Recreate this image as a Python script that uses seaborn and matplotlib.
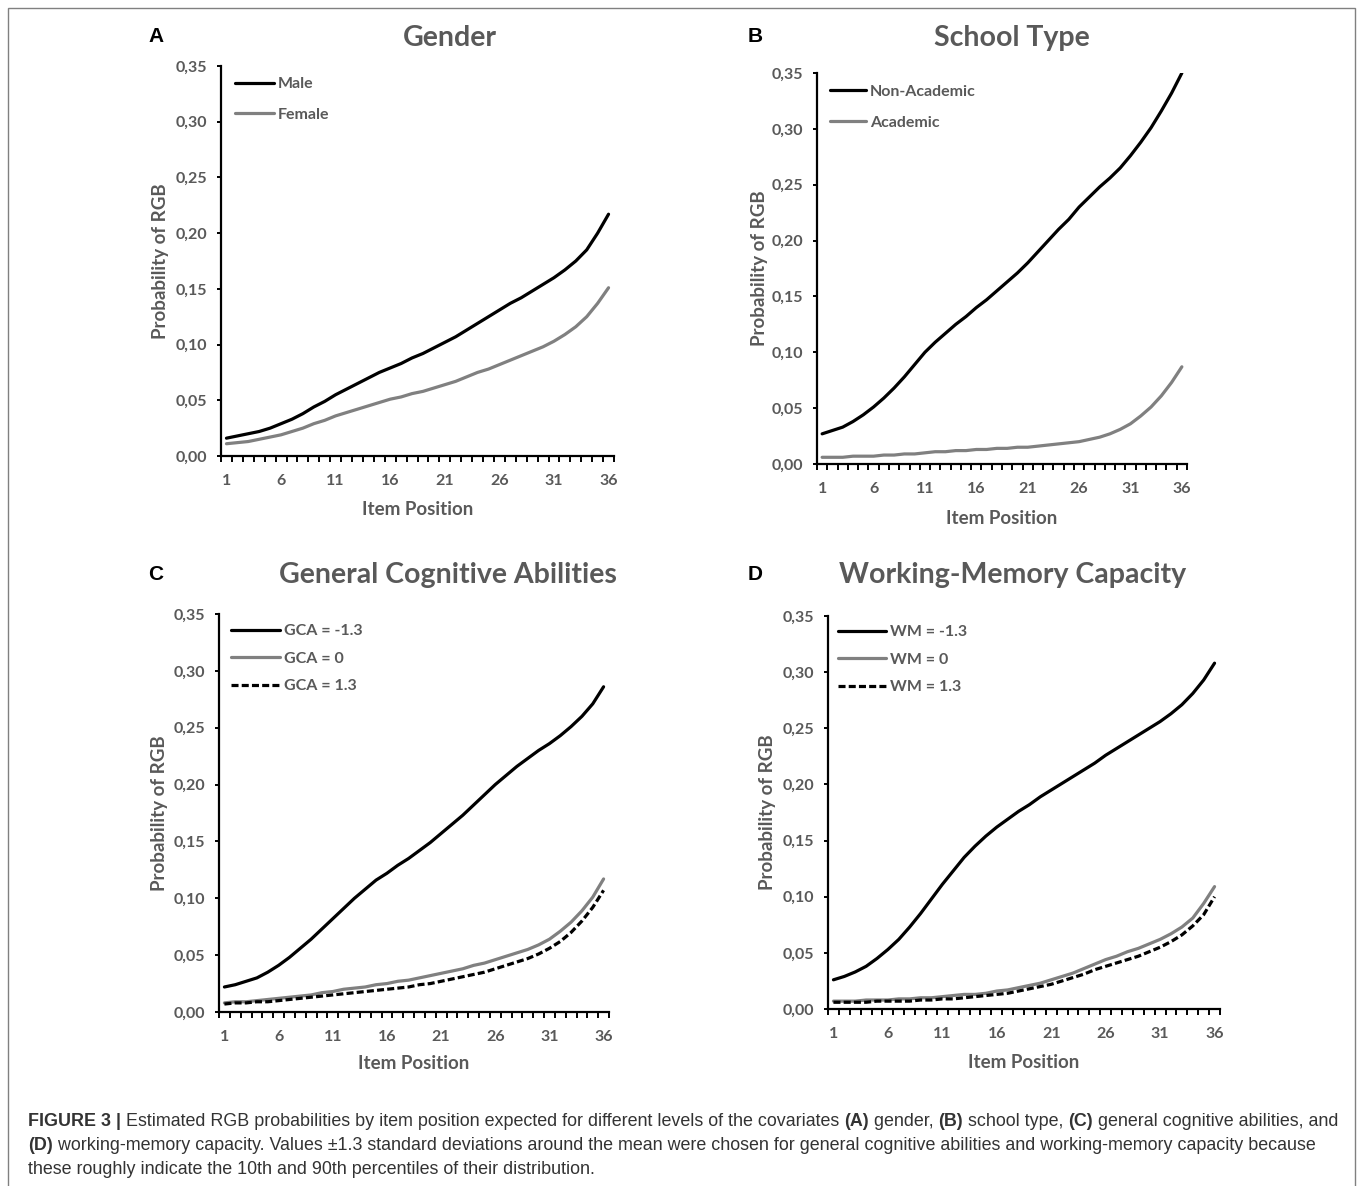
import numpy as np
import pandas as pd
import seaborn as sns
import matplotlib.pyplot as plt
from matplotlib.patches import Rectangle
from matplotlib.ticker import MultipleLocator, FixedLocator, FuncFormatter

# item positions 1..36
items = list(range(1, 37))

male = [0.016, 0.018, 0.020, 0.022, 0.025, 0.029, 0.033, 0.038, 0.044, 0.049,
        0.055, 0.060, 0.065, 0.070, 0.075, 0.079, 0.083, 0.088, 0.092, 0.097,
        0.102, 0.107, 0.113, 0.119, 0.125, 0.131, 0.137, 0.142, 0.148, 0.154,
        0.160, 0.167, 0.175, 0.185, 0.200, 0.217]
female = [0.011, 0.012, 0.013, 0.015, 0.017, 0.019, 0.022, 0.025, 0.029, 0.032,
          0.036, 0.039, 0.042, 0.045, 0.048, 0.051, 0.053, 0.056, 0.058, 0.061,
          0.064, 0.067, 0.071, 0.075, 0.078, 0.082, 0.086, 0.090, 0.094, 0.098,
          0.103, 0.109, 0.116, 0.125, 0.137, 0.151]

non_academic = [0.027, 0.030, 0.033, 0.038, 0.044, 0.051, 0.059, 0.068, 0.078, 0.089,
                0.100, 0.109, 0.117, 0.125, 0.132, 0.140, 0.147, 0.155, 0.163, 0.171,
                0.180, 0.190, 0.200, 0.210, 0.219, 0.230, 0.239, 0.248, 0.256, 0.265,
                0.276, 0.288, 0.301, 0.316, 0.332, 0.350]
academic = [0.006, 0.006, 0.006, 0.007, 0.007, 0.007, 0.008, 0.008, 0.009, 0.009,
            0.010, 0.011, 0.011, 0.012, 0.012, 0.013, 0.013, 0.014, 0.014, 0.015,
            0.015, 0.016, 0.017, 0.018, 0.019, 0.020, 0.022, 0.024, 0.027, 0.031,
            0.036, 0.043, 0.051, 0.061, 0.073, 0.087]

gca_low = [0.022, 0.024, 0.027, 0.030, 0.035, 0.041, 0.048, 0.056, 0.064, 0.073,
           0.082, 0.091, 0.100, 0.108, 0.116, 0.122, 0.129, 0.135, 0.142, 0.149,
           0.157, 0.165, 0.173, 0.182, 0.191, 0.200, 0.208, 0.216, 0.223, 0.230,
           0.236, 0.243, 0.251, 0.260, 0.271, 0.286]
gca_mid = [0.008, 0.009, 0.009, 0.010, 0.011, 0.012, 0.013, 0.014, 0.015, 0.017,
           0.018, 0.020, 0.021, 0.022, 0.024, 0.025, 0.027, 0.028, 0.030, 0.032,
           0.034, 0.036, 0.038, 0.041, 0.043, 0.046, 0.049, 0.052, 0.055, 0.059,
           0.064, 0.071, 0.079, 0.089, 0.101, 0.117]
gca_high = [0.007, 0.008, 0.008, 0.009, 0.009, 0.010, 0.011, 0.012, 0.013, 0.014,
            0.015, 0.016, 0.017, 0.018, 0.019, 0.020, 0.021, 0.022, 0.024, 0.025,
            0.027, 0.029, 0.031, 0.033, 0.035, 0.038, 0.041, 0.044, 0.047, 0.051,
            0.056, 0.062, 0.070, 0.080, 0.092, 0.107]

wm_low = [0.026, 0.029, 0.033, 0.038, 0.045, 0.053, 0.062, 0.073, 0.085, 0.098,
          0.111, 0.123, 0.135, 0.145, 0.154, 0.162, 0.169, 0.176, 0.182, 0.189,
          0.195, 0.201, 0.207, 0.213, 0.219, 0.226, 0.232, 0.238, 0.244, 0.250,
          0.256, 0.263, 0.271, 0.281, 0.293, 0.308]
wm_mid = [0.007, 0.007, 0.007, 0.008, 0.008, 0.008, 0.009, 0.009, 0.010, 0.010,
          0.011, 0.012, 0.013, 0.013, 0.014, 0.016, 0.017, 0.019, 0.021, 0.023,
          0.026, 0.029, 0.032, 0.036, 0.040, 0.044, 0.047, 0.051, 0.054, 0.058,
          0.062, 0.067, 0.073, 0.081, 0.094, 0.109]
wm_high = [0.006, 0.006, 0.006, 0.006, 0.007, 0.007, 0.007, 0.007, 0.008, 0.008,
           0.009, 0.009, 0.010, 0.011, 0.012, 0.013, 0.014, 0.016, 0.018, 0.020,
           0.022, 0.025, 0.028, 0.031, 0.035, 0.038, 0.041, 0.044, 0.047, 0.051,
           0.055, 0.060, 0.066, 0.074, 0.084, 0.100]

x_labels = [1, 6, 11, 16, 21, 26, 31, 36]

BLACK = '#000000'
GRAY = '#808080'
TXT = '#595959'
FONT = 'Lato'

sns.set_theme(style='white')
plt.rcParams['font.family'] = ['Lato', 'DejaVu Sans']

W, H = 1358, 1186
fig = plt.figure(figsize=(W / 100, H / 100), dpi=100)


def px_axes(left, right, top, bottom):
    return [left / W, 1 - bottom / H, (right - left) / W, (bottom - top) / H]


panels = [
    dict(box=px_axes(221, 614, 66, 456), letter='A', lpos=(148, 37),
         title='Gender', tpos=(450, 38),
         series=[('Male', male, BLACK, '-'), ('Female', female, GRAY, '-')],
         leg=(0.035, 0.972), hl=2.45, ls=1.05, ylab=-0.132, xlab=-0.115),
    dict(box=px_axes(817, 1187, 73, 464), letter='B', lpos=(748, 37),
         title='School Type', tpos=(1012, 38),
         series=[('Non-Academic', non_academic, BLACK, '-'), ('Academic', academic, GRAY, '-')],
         leg=(0.035, 0.970), hl=2.25, ls=1.05, ylab=-0.133, xlab=-0.118),
    dict(box=px_axes(219, 609, 614, 1012), letter='C', lpos=(148, 575),
         title='General Cognitive Abilities', tpos=(448, 575),
         series=[('GCA = -1.3', gca_low, BLACK, '-'), ('GCA = 0', gca_mid, GRAY, '-'),
                 ('GCA = 1.3', gca_high, BLACK, '--')],
         leg=(0.03, 0.975), hl=3.1, ls=0.84, ylab=-0.131, xlab=-0.108),
    dict(box=px_axes(828, 1220, 616, 1009), letter='D', lpos=(748, 575),
         title='Working-Memory Capacity', tpos=(1013, 575),
         series=[('WM = -1.3', wm_low, BLACK, '-'), ('WM = 0', wm_mid, GRAY, '-'),
                 ('WM = 1.3', wm_high, BLACK, '--')],
         leg=(0.025, 0.977), hl=3.0, ls=0.84, ylab=-0.133, xlab=-0.115),
]

for p in panels:
    ax = fig.add_axes(p['box'])
    for name, vals, col, sty in p['series']:
        df = pd.DataFrame({'Item': items, 'Prob': vals})
        kw = dict(dashes=(2.2, 1.0)) if sty == '--' else {}
        sns.lineplot(data=df, x='Item', y='Prob', ax=ax, color=col, lw=2.3,
                     label=name, **kw)
    ax.set_xlim(0.5, 36.5)
    ax.set_ylim(0, 0.35)
    for s in ['top', 'right']:
        ax.spines[s].set_visible(False)
    for s in ['left', 'bottom']:
        ax.spines[s].set_color('black')
        ax.spines[s].set_linewidth(1.6)
    ax.xaxis.set_major_locator(FixedLocator(x_labels))
    ax.xaxis.set_minor_locator(FixedLocator(np.arange(0.5, 37, 1)))
    ax.yaxis.set_major_locator(MultipleLocator(0.05))
    ax.yaxis.set_major_formatter(FuncFormatter(lambda v, pos: f'{v:.2f}'.replace('.', ',')))
    ax.tick_params(axis='x', which='major', length=0, pad=13, labelsize=11.5,
                   labelcolor=TXT)
    ax.tick_params(axis='x', which='minor', bottom=True, length=4, width=1.4,
                   color='black', direction='out')
    ax.tick_params(axis='y', which='major', left=True, length=3, width=1.4,
                   color='black', direction='out', pad=7, labelsize=11.5,
                   labelcolor=TXT)
    for lab in ax.get_xticklabels() + ax.get_yticklabels():
        lab.set_fontweight('bold')
    ax.set_xlabel('Item Position', fontsize=13.5, fontweight='bold', color=TXT)
    ax.set_ylabel('Probability of RGB', fontsize=13.5, fontweight='bold', color=TXT)
    ax.xaxis.set_label_coords(0.5, p['xlab'])
    ax.yaxis.set_label_coords(p['ylab'], 0.5)
    leg = ax.legend(loc='upper left', bbox_to_anchor=p['leg'], frameon=False,
                    borderpad=0, borderaxespad=0, handlelength=p['hl'],
                    handletextpad=0.25, labelspacing=p['ls'],
                    prop=dict(family=FONT, weight='bold', size=11.5))
    for t in leg.get_texts():
        t.set_color(TXT)

    # panel letter and title
    fig.text(p['lpos'][0] / W, 1 - p['lpos'][1] / H, p['letter'], ha='left',
             va='center', fontsize=15, fontweight='bold',
             family=['Liberation Sans'], color='black')
    fig.text(p['tpos'][0] / W, 1 - p['tpos'][1] / H, p['title'], ha='center',
             va='center', fontsize=20.5, fontweight='bold', color=TXT)

# figure frame
fig.patches.append(Rectangle((7.5 / W, -0.02), (1355 - 7.5) / W, 1.02 - 8 / H,
                             transform=fig.transFigure, fill=False,
                             edgecolor='#808080', lw=1.0))

# caption
cap_lines = [
    [('FIGURE 3 |', 'bold'), (' Estimated RGB probabilities by item position expected for different levels of the covariates ', 'normal'),
     ('(A)', 'bold'), (' gender, ', 'normal'), ('(B)', 'bold'), (' school type, ', 'normal'),
     ('(C)', 'bold'), (' general cognitive abilities, and', 'normal')],
    [('(D)', 'bold'), (' working-memory capacity. Values \u00b11.3 standard deviations around the mean were chosen for general cognitive abilities and working-memory capacity because', 'normal')],
    [('these roughly indicate the 10th and 90th percentiles of their distribution.', 'normal')],
]
cap_y = [1121, 1146, 1170]
renderer = fig.canvas.get_renderer()
for runs, yy in zip(cap_lines, cap_y):
    x = 28 / W
    for txt, wt in runs:
        t = fig.text(x, 1 - yy / H, txt, ha='left', va='center', fontsize=12.9,
                     fontweight=wt, family=['Liberation Sans'], color='#333333')
        x += t.get_window_extent(renderer).width / W

fig.savefig('out.png', dpi=100)
